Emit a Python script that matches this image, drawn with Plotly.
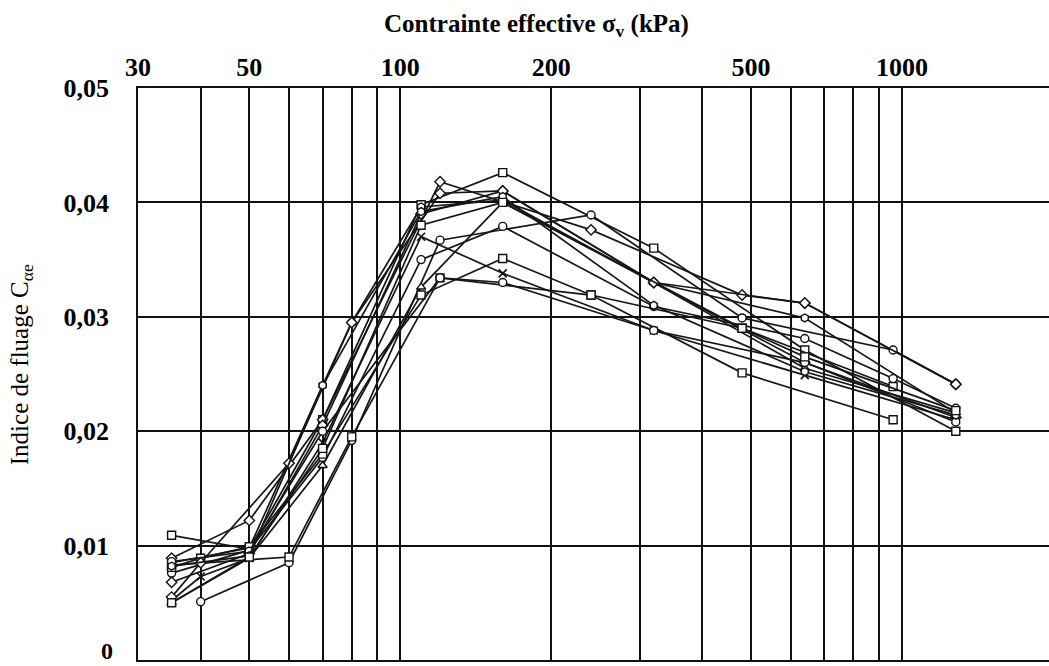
import math
import plotly.graph_objects as go

# ---- data (stress in kPa, creep index C_alpha_e) ----
s1_x = [35, 50, 70, 110, 160, 320, 640, 1280]
s1_y = [0.0109, 0.0097, 0.0210, 0.0398, 0.0426, 0.0360, 0.0271, 0.0200]

s2_x = [35, 50, 70, 80, 110, 160, 320, 640, 1280]
s2_y = [0.0085, 0.0098, 0.0240, 0.0295, 0.0396, 0.0402, 0.0330, 0.0299, 0.0216]

s3_x = [35, 50, 70, 120, 240, 480, 640, 1280]
s3_y = [0.0089, 0.0122, 0.0210, 0.0418, 0.0376, 0.0319, 0.0312, 0.0241]

s4_x = [40, 60, 80, 120, 240, 480, 960, 1280]
s4_y = [0.0051, 0.0085, 0.0192, 0.0367, 0.0389, 0.0299, 0.0271, 0.0241]

s5_x = [35, 60, 80, 120, 240, 480, 960]
s5_y = [0.0083, 0.0090, 0.0195, 0.0334, 0.0319, 0.0251, 0.0210]

s6_x = [35, 50, 70, 110, 160, 320, 640, 1280]
s6_y = [0.0068, 0.0093, 0.0205, 0.0390, 0.0410, 0.0330, 0.0260, 0.0212]

s7_x = [35, 40, 50, 70, 110, 160, 320, 640, 1280]
s7_y = [0.0052, 0.0073, 0.0089, 0.0190, 0.0370, 0.0338, 0.0288, 0.0249, 0.0210]

s8_x = [35, 50, 70, 110, 160, 320, 640, 960, 1280]
s8_y = [0.0076, 0.0096, 0.0177, 0.0350, 0.0379, 0.0309, 0.0281, 0.0246, 0.0220]

s9_x = [35, 50, 70, 110, 160, 320, 640, 1280]
s9_y = [0.0050, 0.0089, 0.0170, 0.0326, 0.0400, 0.0330, 0.0255, 0.0216]

s10_x = [35, 40, 50, 70, 110, 160, 240, 480, 960]
s10_y = [0.0081, 0.0089, 0.0099, 0.0180, 0.0319, 0.0351, 0.0319, 0.0290, 0.0239]

s11_x = [35, 40, 60, 80, 120, 160, 320, 640, 1280]
s11_y = [0.0055, 0.0085, 0.0172, 0.0295, 0.0408, 0.0410, 0.0330, 0.0312, 0.0241]

s12_x = [35, 50, 70, 120, 160, 320, 640, 1280]
s12_y = [0.0086, 0.0095, 0.0200, 0.0334, 0.0330, 0.0288, 0.0260, 0.0208]

s13_x = [35, 50, 70, 110, 160, 320, 640, 1280]
s13_y = [0.0082, 0.0091, 0.0240, 0.0392, 0.0405, 0.0310, 0.0252, 0.0214]

s14_x = [35, 50, 70, 110, 160, 480, 640, 1280]
s14_y = [0.0050, 0.0090, 0.0185, 0.0380, 0.0400, 0.0290, 0.0265, 0.0218]

series = [
    (s1_x, s1_y, "square"),
    (s2_x, s2_y, "hexagon"),
    (s3_x, s3_y, "diamond"),
    (s4_x, s4_y, "circle"),
    (s5_x, s5_y, "square"),
    (s6_x, s6_y, "diamond"),
    (s7_x, s7_y, "x-thin"),
    (s8_x, s8_y, "circle"),
    (s9_x, s9_y, "triangle-up"),
    (s10_x, s10_y, "square"),
    (s11_x, s11_y, "diamond"),
    (s12_x, s12_y, "circle"),
    (s13_x, s13_y, "hexagon"),
    (s14_x, s14_y, "square"),
]

# ---- axis ticks ----
grid_vals = [30, 40, 50, 60, 70, 80, 90, 100, 200, 300, 400, 500, 600, 700, 800, 900, 1000, 2000]
grid_text = ["30", "", "50", "", "", "", "", "100", "200", "", "", "500", "", "", "", "", "1000", ""]
y_vals = [0, 0.01, 0.02, 0.03, 0.04, 0.05]
y_text = ["", "0,01", "0,02", "0,03", "0,04", "0,05"]
y_zero_label = "0"

FONT = "Liberation Serif"

fig = go.Figure()
for xs, ys, sym in series:
    if sym == "x-thin":
        mk = dict(symbol="x-thin", size=8, color="#111", line=dict(color="#111", width=1.6))
    else:
        mk = dict(symbol=sym, size=8, color="white", line=dict(color="#111", width=1.4))
    fig.add_trace(go.Scatter(
        x=xs, y=ys, mode="lines+markers",
        line=dict(color="#161616", width=1.7),
        marker=mk, showlegend=False, hoverinfo="skip",
    ))

fig.update_layout(
    width=1049, height=666,
    margin=dict(l=138, r=0, t=88, b=6, autoexpand=False),
    plot_bgcolor="white", paper_bgcolor="white",
    showlegend=False,
    font=dict(family=FONT, color="black"),
)

fig.update_xaxes(
    type="log", range=[math.log10(30), 3.293], side="top",
    tickmode="array", tickvals=grid_vals, ticktext=grid_text,
    showgrid=True, gridcolor="#111", gridwidth=1.7,
    showline=True, mirror=True, linecolor="#111", linewidth=1.7,
    ticks="", zeroline=False, ticklabeloverflow="allow", automargin=False,
    tickfont=dict(family=FONT, size=26, color="black", weight="bold"),
)
fig.update_yaxes(
    range=[0, 0.05],
    tickmode="array", tickvals=y_vals, ticktext=y_text,
    showgrid=True, gridcolor="#111", gridwidth=1.7,
    showline=True, mirror=False, linecolor="#111", linewidth=1.7,
    ticks="", zeroline=False, ticklabelstandoff=22, ticklabeloverflow="allow",
    automargin=False,
    tickfont=dict(family=FONT, size=26, color="black", weight="bold"),
)

# "0" label placed as annotation so it stays inside the page
fig.add_annotation(
    text="<b>" + y_zero_label + "</b>",
    xref="paper", yref="paper", x=0, y=-6 / 572, xshift=-23,
    xanchor="right", yanchor="bottom", showarrow=False,
    font=dict(family=FONT, size=24, color="black"),
)

fig.add_annotation(
    text="<b>Contrainte effective σ<sub>v</sub> (kPa)</b>",
    xref="paper", yref="paper", x=0.437, y=1.11,
    xanchor="center", yanchor="middle", showarrow=False,
    font=dict(family=FONT, size=25, color="black"),
)
fig.add_annotation(
    text="Indice de fluage C<sub>αe</sub>",
    xref="paper", yref="paper", x=-0.128, y=0.516,
    xanchor="center", yanchor="middle", textangle=-90, showarrow=False,
    font=dict(family=FONT, size=25, color="black"),
)

fig.write_html("out.html")
